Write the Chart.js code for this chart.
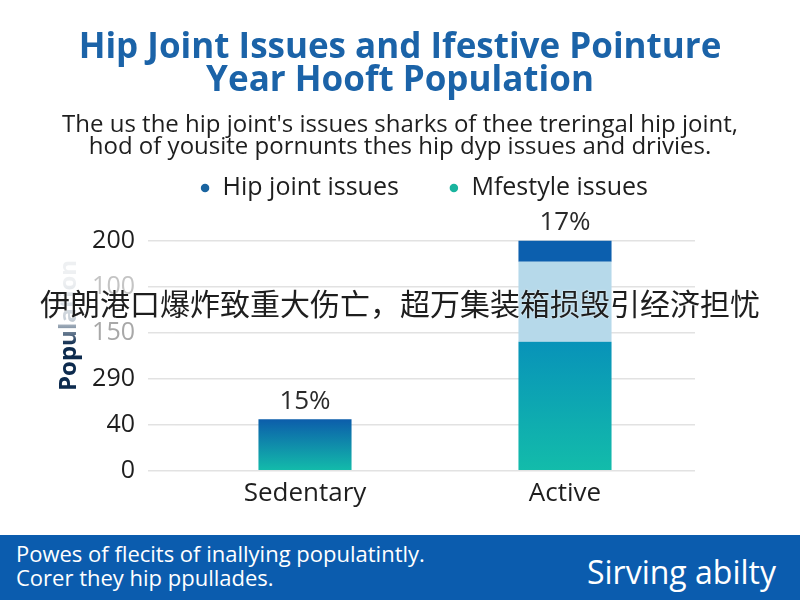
<!DOCTYPE html>
<html lang="en">
<head>
    <meta charset="UTF-8">
    <title>Hip Joint Issues and Ifestive Pointure</title>
    <script src="https://cdn.jsdelivr.net/npm/chart.js"></script>
    <style>
        html, body { margin: 0; padding: 0; background: #fff; }
        #wrap { position: relative; width: 800px; height: 600px; overflow: hidden; font-family: 'Open Sans', sans-serif; }
        #chartBox { position: absolute; left: 0; top: 0; width: 800px; height: 535px; }
        #overlay { position: absolute; left: 0; top: 281px; width: 800px; text-align: center; font: 30px/42px 'Noto Sans CJK SC', sans-serif; color: #1e1e1e; text-shadow: 0 0 2px #fff; white-space: nowrap; }
        #footer { position: absolute; left: 0; top: 535px; width: 800px; height: 65px; background: #0b5cae; color: #fff; }
        #footer .left { position: absolute; left: 16px; top: 6px; font-size: 22px; line-height: 24px; }
        #footer .right { position: absolute; right: 24px; top: 17px; font-size: 32px; line-height: 40px; }
    </style>
</head>
<body>
<div id="wrap">
    <div id="chartBox"><canvas id="hipChart" width="800" height="535"></canvas></div>
    <div id="overlay">伊朗港口爆炸致重大伤亡，超万集装箱损毁引经济担忧</div>
    <div id="footer">
        <div class="left">Powes of flecits of inallying populatintly.<br>Corer they hip ppullades.</div>
        <div class="right">Sirving abilty</div>
    </div>
</div>

<script>
    // values (y axis runs 0..250 in steps of 50)
    const categories = ["Sedentary", "Active"];
    const lifestyleValues = [56, 140];
    const midValues = [0, 87];
    const hipValues = [0, 23];
    const pctLabels = ["15%", "17%"];
    const yTickLabels = ["0", "40", "290", "150", "100", "200"];

    Chart.defaults.font.family = "'Open Sans', sans-serif";

    const tealTop = ["#0c5dab", "#0893b9"];

    function tealGradient(ctx) {
        const chart = ctx.chart;
        if (!chart.chartArea || ctx.type !== "data") return "#17b3a0";
        const y = chart.scales.y;
        const top = y.getPixelForValue(ctx.raw);
        const base = y.getPixelForValue(0);
        const g = chart.ctx.createLinearGradient(0, top, 0, base);
        g.addColorStop(0, tealTop[ctx.dataIndex]);
        g.addColorStop(1, "#13bcaa");
        return g;
    }

    // legend: extra space under it, items placed like in the picture
    const legendSpace = {
        id: "legendSpace",
        beforeLayout(chart) {
            const lg = chart.legend;
            if (!lg || lg._patched) return;
            const fit = lg.fit;
            lg.fit = function () { fit.call(this); this.height = 82; };
            lg._patched = true;
        },
        afterLayout(chart) {
            const lg = chart.legend;
            const d = 175.5 - (lg.top + 50);
            lg.top += d; lg.bottom += d;
            lg.left += 24; lg.right += 24;
        }
    };

    // percentage labels above each stack
    const topLabels = {
        id: "topLabels",
        afterDatasetsDraw(chart) {
            const c = chart.ctx;
            c.save();
            c.font = "26px 'Open Sans', sans-serif";
            c.fillStyle = "#2a2a2a";
            c.textAlign = "center";
            c.textBaseline = "middle";
            categories.forEach((cat, i) => {
                let top = Infinity, x = 0;
                chart.data.datasets.forEach((ds, di) => {
                    const el = chart.getDatasetMeta(di).data[i];
                    if (ds.data[i] > 0 && el.y < top) { top = el.y; x = el.x; }
                });
                c.fillText(pctLabels[i], x, top - 18);
            });
            c.restore();
        }
    };

    // rotated axis title, fading towards the top
    const yTitle = {
        id: "yTitle",
        afterDraw(chart) {
            const c = chart.ctx;
            c.save();
            c.translate(69, 391);
            c.rotate(-Math.PI / 2);
            const g = c.createLinearGradient(0, 0, 110, 0);
            g.addColorStop(0, "#0d2b4e");
            g.addColorStop(0.42, "#0d2b4e");
            g.addColorStop(0.65, "#c8d0d8");
            g.addColorStop(1, "#eef0f2");
            c.fillStyle = g;
            c.font = "bold 24px 'Open Sans', sans-serif";
            c.textAlign = "left";
            c.textBaseline = "middle";
            c.fillText("Population", 0, 0);
            c.restore();
        }
    };

    new Chart(document.getElementById("hipChart").getContext("2d"), {
        type: "bar",
        data: {
            labels: categories,
            datasets: [
                {
                    label: "Mfestyle issues",
                    data: lifestyleValues,
                    backgroundColor: tealGradient,
                    borderWidth: 0
                },
                {
                    label: "mid",
                    data: midValues,
                    backgroundColor: "#b6d9ea",
                    borderWidth: 0
                },
                {
                    label: "Hip joint issues",
                    data: hipValues,
                    backgroundColor: "#0c5fae",
                    borderWidth: 0
                }
            ]
        },
        options: {
            responsive: false,
            animation: false,
            layout: { padding: { left: 0, right: 0, top: 0, bottom: 19 } },
            datasets: { bar: { categoryPercentage: 1, barPercentage: 0.358 } },
            plugins: {
                title: {
                    display: true,
                    text: ["Hip Joint Issues and Ifestive Pointure", "Year Hooft Population"],
                    color: "#1b63a8",
                    font: { size: 35, weight: "bold", lineHeight: 0.943 },
                    padding: { top: 31.5, bottom: 17 }
                },
                subtitle: {
                    display: true,
                    text: ["The us the hip joint's issues sharks of thee treringal hip joint,", "hod of yousite pornunts thes hip dyp issues and drivies."],
                    color: "#1e1e1e",
                    font: { size: 24, lineHeight: 0.917 },
                    padding: { top: 0, bottom: 0 }
                },
                legend: {
                    reverse: true,
                    labels: {
                        usePointStyle: true,
                        pointStyle: "circle",
                        boxWidth: 10,
                        boxHeight: 6,
                        padding: 50,
                        color: "#1e1e1e",
                        font: { size: 25 },
                        filter: item => item.text !== "mid",
                        generateLabels: chart => Chart.defaults.plugins.legend.labels.generateLabels(chart).map(item => {
                            const col = item.text === "Hip joint issues" ? "#1a64a0" : "#19b49e";
                            item.fillStyle = col;
                            item.strokeStyle = col;
                            item.lineWidth = 0;
                            return item;
                        })
                    }
                },
                tooltip: { enabled: false }
            },
            scales: {
                x: {
                    stacked: true,
                    grid: { display: false, drawTicks: false },
                    border: { display: false },
                    ticks: { color: "#1e1e1e", font: { size: 26 }, padding: 7 }
                },
                y: {
                    stacked: true,
                    min: 0,
                    max: 250,
                    afterFit: s => { s.width = 175; },
                    grid: { color: "#e2e2e2", lineWidth: 1.5, drawTicks: true, tickLength: 27 },
                    border: { display: false },
                    ticks: {
                        stepSize: 50,
                        padding: 13,
                        font: { size: 25 },
                        color: c => (c.index === 3 ? "#a8a8a8" : c.index === 4 ? "#c4c4c4" : "#1e1e1e"),
                        callback: v => yTickLabels[v / 50]
                    }
                },
                yRight: {
                    position: "right",
                    display: true,
                    afterFit: s => { s.width = 105; },
                    grid: { display: false },
                    border: { display: false },
                    ticks: { display: false }
                }
            }
        },
        plugins: [legendSpace, topLabels, yTitle]
    });
</script>
</body>
</html>
